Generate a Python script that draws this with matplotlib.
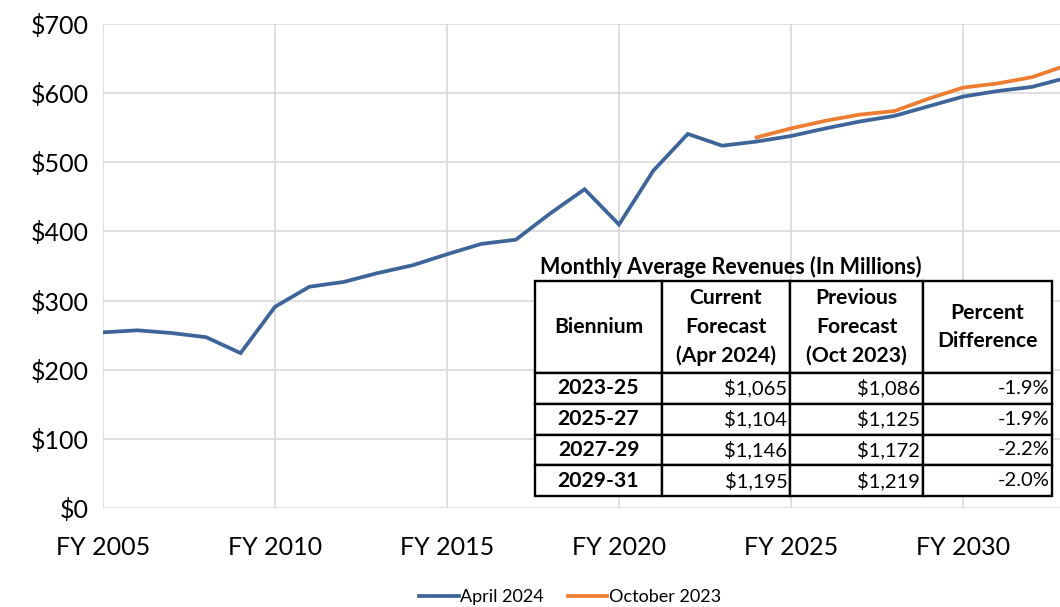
import matplotlib
matplotlib.use("Agg")
import matplotlib.pyplot as plt

# FY revenue lines (monthly average, $ millions)
years_apr = list(range(2005, 2034))
apr_2024 = [254, 257, 253, 247, 224, 291, 320, 327, 340, 351, 367, 382, 388,
            426, 461, 410, 488, 541, 524, 530, 538, 549, 559, 567, 581, 595,
            603, 609, 622]
years_oct = list(range(2024, 2034))
oct_2023 = [536, 549, 560, 569, 574, 592, 608, 614, 623, 640]

# inset table
tbl_title = "Monthly Average Revenues (In Millions)"
tbl_header = ["Biennium", "Current\nForecast\n(Apr 2024)",
              "Previous\nForecast\n(Oct 2023)", "Percent\nDifference"]
biennia = ["2023-25", "2025-27", "2027-29", "2029-31"]
current = ["$1,065", "$1,104", "$1,146", "$1,195"]
previous = ["$1,086", "$1,125", "$1,172", "$1,219"]
pct_diff = ["-1.9%", "-1.9%", "-2.2%", "-2.0%"]

plt.rcParams["font.family"] = ["Lato", "DejaVu Sans"]
W, H = 1060, 607
fig = plt.figure(figsize=(W / 100, H / 100), dpi=100)
ax = fig.add_axes([103 / W, 1 - 508 / H, 1 - 103 / W, (508 - 24) / H])

ax.plot(years_apr, apr_2024, color="#3d6599", lw=2.7, label="April 2024",
        solid_joinstyle="miter")
ax.plot(years_oct, oct_2023, color="#ed7d31", lw=2.7, label="October 2023",
        solid_joinstyle="miter")

ax.set_xlim(2005, 2005 + (1060 - 103) / 34.4)
ax.set_ylim(0, 700)
ax.set_xticks(range(2005, 2031, 5))
ax.set_xticklabels([f"FY {y}" for y in range(2005, 2031, 5)])
ax.set_yticks(range(0, 701, 100))
ax.set_yticklabels([f"${v}" for v in range(0, 701, 100)])
ax.tick_params(length=0, labelsize=18, colors="#000000", pad=10)
ax.tick_params(axis="x", pad=20)
ax.grid(True, color="#d9d9d9", lw=1.2)
for s in ax.spines.values():
    s.set_visible(False)
ax.set_axisbelow(True)

leg = fig.legend(loc="center", bbox_to_anchor=(570 / W, 1 - 597 / H),
                 ncol=2, frameon=False, fontsize=13, handlelength=2.2,
                 handletextpad=0.1, columnspacing=1.3)

# table
tx0, tx1, ty0, ty1 = 535, 1052, 281, 496
tax = fig.add_axes([tx0 / W, 1 - ty1 / H, (tx1 - tx0) / W, (ty1 - ty0) / H])
tax.axis("off")
rows = [tbl_header] + [list(r) for r in zip(biennia, current, previous, pct_diff)]
colw = [127, 128, 133, 129]
tot = sum(colw)
tb = tax.table(cellText=rows, bbox=[0, 0, 1, 1], cellLoc="center")
tb.auto_set_font_size(False)
hdr_h = 92 / (ty1 - ty0)
row_h = (1 - hdr_h) / 4
for (r, c), cell in tb.get_celld().items():
    cell.set_width(colw[c] / tot)
    cell.set_height(hdr_h if r == 0 else row_h)
    cell.set_edgecolor("#000000")
    cell.set_linewidth(1.7)
    cell.set_facecolor("white")
    t = cell.get_text()
    if r == 0 or c == 0:
        t.set_fontweight("bold")
        t.set_fontsize(15.2)
        t.set_linespacing(1.55)
    else:
        t.set_fontsize(14.5)
        t.set_horizontalalignment("right")
        cell.PAD = 0.02
        cell._loc = "right"
fig.text(540 / W, 1 - 267 / H, tbl_title, fontsize=15.5, fontweight="bold",
         va="center", ha="left")

fig.savefig("out.png", dpi=100)
